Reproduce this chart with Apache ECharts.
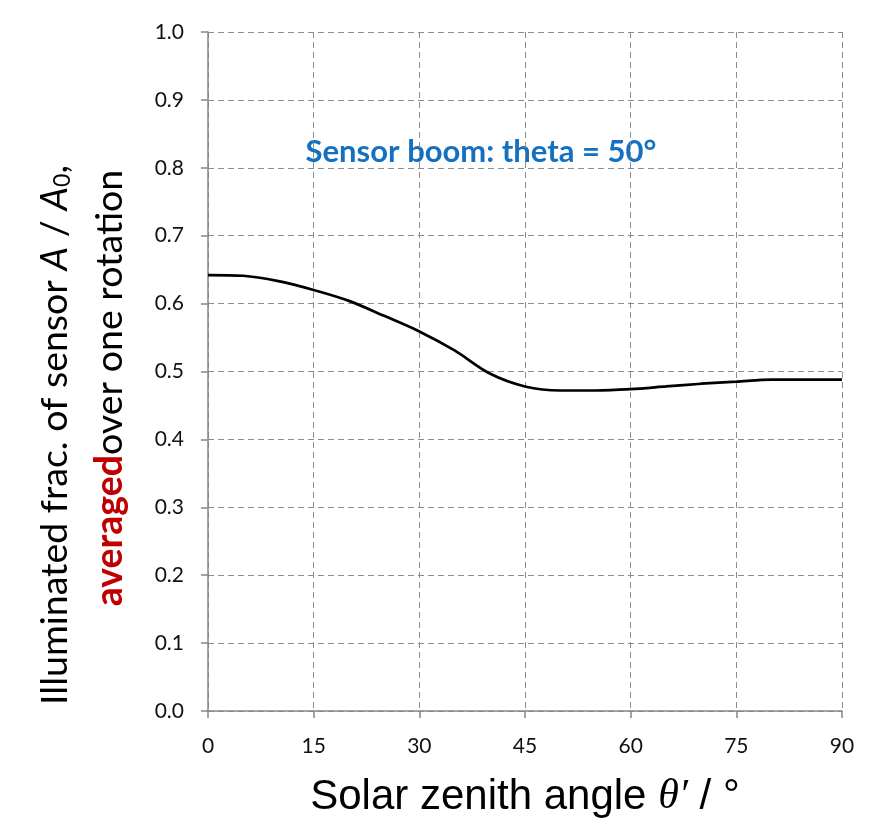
<!DOCTYPE html>
<html><head><meta charset="utf-8">
<script src="https://cdn.jsdelivr.net/npm/echarts@6/dist/echarts.min.js"></script>
<style>html,body{margin:0;padding:0;background:#fff}#c{width:880px;height:822px}</style>
</head><body><div id="c"></div>
<script>
const angles = [0,5,10,15,20,25,30,35,40,45,50,55,60,65,70,75,80,85,90];
const fraction = [0.642,0.641,0.633,0.620,0.604,0.582,0.559,0.531,0.497,0.478,0.472,0.472,0.474,0.478,0.482,0.485,0.488,0.488,0.488];
const xTicks = {min:0, max:90, interval:15};
const yTicks = {min:0, max:1, interval:0.1};
const annotation = 'Sensor boom: theta = 50°';

const chart = echarts.init(document.getElementById('c'), null, {renderer:'canvas'});
const axisGray = '#868686';
const gridGray = '#8c8c8c';
const tickFont = {fontFamily:'Lato', fontSize:21, color:'#111'};
chart.setOption({
  animation:false,
  grid:{left:208, right:38, top:32, bottom:111, containLabel:false},
  xAxis:{type:'value', min:xTicks.min, max:xTicks.max, interval:xTicks.interval,
    axisLine:{show:true, onZero:false, lineStyle:{color:axisGray, width:1.5}},
    axisTick:{show:true, length:7, lineStyle:{color:axisGray, width:1.5}},
    axisLabel:Object.assign({margin:25}, tickFont),
    splitLine:{show:true, lineStyle:{color:gridGray, type:[6,4], width:1}}
  },
  yAxis:{type:'value', min:yTicks.min, max:yTicks.max, interval:yTicks.interval,
    axisLine:{show:true, onZero:false, lineStyle:{color:axisGray, width:1.5}},
    axisTick:{show:true, length:7, lineStyle:{color:axisGray, width:1.5}},
    axisLabel:Object.assign({margin:24, formatter:v=>v.toFixed(1)}, tickFont),
    splitLine:{show:true, lineStyle:{color:gridGray, type:[6,4], width:1}}
  },
  series:[{type:'line', data:angles.map((a,i)=>[a,fraction[i]]), smooth:0.3,
    showSymbol:false, lineStyle:{color:'#000', width:2.7}}],
  graphic:[
    {type:'text', silent:true, x:481, y:152,
     style:{text:annotation, textAlign:'center', textVerticalAlign:'middle',
      font:'bold 31px Lato', fill:'#1670c0'}},
    {type:'text', silent:true, x:525, y:797,
     style:{text:'{n|Solar zenith angle }{i|θ′}{n| / °}', textAlign:'center', textVerticalAlign:'middle',
      rich:{n:{fontFamily:'Liberation Sans', fontSize:42, fill:'#000', color:'#000'},
            i:{fontFamily:'Liberation Serif', fontStyle:'italic', fontSize:42, fill:'#000', color:'#000'}}}},
    {type:'text', silent:true, x:55, y:435, rotation:Math.PI/2,
     style:{text:'{n|Illuminated frac. of sensor }{i|A}{n| / }{i|A}{s|0}{n|,}', textAlign:'center', textVerticalAlign:'middle',
      rich:{n:{fontFamily:'Lato', fontSize:37.5, fill:'#000', color:'#000'},
            i:{fontFamily:'Lato', fontStyle:'italic', fontSize:37.5, fill:'#000', color:'#000'},
            s:{fontFamily:'Lato', fontSize:23, fill:'#000', color:'#000', verticalAlign:'bottom', padding:[14,0,0,0]}}}},
    {type:'text', silent:true, x:110, y:388, rotation:Math.PI/2,
     style:{text:'{r|averaged}{n|over one rotation}', textAlign:'center', textVerticalAlign:'middle',
      rich:{n:{fontFamily:'Lato', fontSize:37.5, fill:'#000', color:'#000'},
            r:{fontFamily:'Lato', fontWeight:'bold', fontSize:37.5, fill:'#c00000', color:'#c00000'}}}}
  ]
});
</script></body></html>
